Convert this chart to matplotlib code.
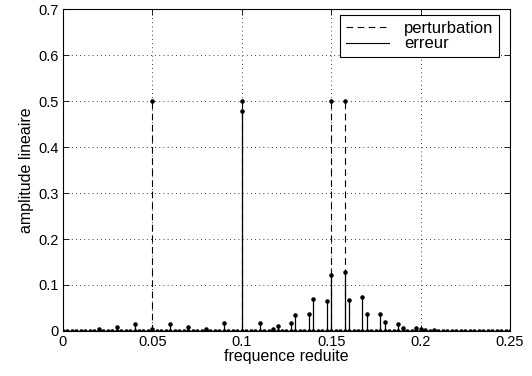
import numpy as np
import matplotlib
matplotlib.use('Agg')
import matplotlib.pyplot as plt
from matplotlib.lines import Line2D

plt.rcParams['font.family'] = ['Liberation Sans', 'DejaVu Sans']

# frequency grid (step 0.0025 from 0 to 0.25)
freq_grid = np.linspace(0, 0.25, 101)

# perturbation : pure sines
pert_freq = [0.05, 0.1, 0.15, 0.1575]
pert_amp = [0.5, 0.5, 0.5, 0.5]

# erreur : non-zero bins (other bins are 0)
err_freq = [0.02, 0.03, 0.04, 0.05, 0.06, 0.07, 0.08, 0.09, 0.1, 0.11,
            0.1175, 0.12, 0.1275, 0.13, 0.1375, 0.14, 0.1475, 0.15,
            0.1575, 0.16, 0.1675, 0.17, 0.1775, 0.18, 0.1875, 0.19,
            0.1975, 0.2, 0.2025, 0.2075]
err_amp = [0.004, 0.009, 0.015, 0.005, 0.015, 0.009, 0.004, 0.018, 0.478, 0.018,
           0.004, 0.010, 0.017, 0.034, 0.038, 0.070, 0.066, 0.122,
           0.128, 0.067, 0.073, 0.038, 0.038, 0.019, 0.016, 0.007,
           0.006, 0.004, 0.002, 0.002]

fig = plt.figure(figsize=(5.32, 3.76), dpi=100)
ax = fig.add_axes([0.1184, 0.1197, 0.8402, 0.8563])

# dots on every bin at zero
ax.plot(freq_grid, np.zeros_like(freq_grid), 'k.', markersize=4.5, linestyle='None')

ax.vlines(pert_freq, 0, pert_amp, colors='k', linestyles=(0, (6, 4)), linewidth=0.8)
ax.plot(pert_freq, pert_amp, 'k.', markersize=4.5)

ax.vlines(err_freq, 0, err_amp, colors='k', linestyles='-', linewidth=0.9)
ax.plot(err_freq, err_amp, 'k.', markersize=4.5)

ax.set_xlim(0, 0.25)
ax.set_ylim(0, 0.7)
ax.set_xticks([0, 0.05, 0.1, 0.15, 0.2, 0.25])
ax.set_xticklabels(['0', '0.05', '0.1', '0.15', '0.2', '0.25'])
ax.set_yticks([0, 0.1, 0.2, 0.3, 0.4, 0.5, 0.6, 0.7])
ax.set_yticklabels(['0', '0.1', '0.2', '0.3', '0.4', '0.5', '0.6', '0.7'])
ax.tick_params(direction='in', top=True, right=True, labelsize=10.5, length=4,
               width=0.6, pad=3)
ax.grid(True, color='k', linestyle=(0, (1, 4)), linewidth=0.6)
for s in ax.spines.values():
    s.set_linewidth(0.8)

ax.set_xlabel('frequence reduite', fontsize=11.5, labelpad=0)
ax.set_ylabel('amplitude lineaire', fontsize=11.5, labelpad=3)

handles = [Line2D([], [], color='k', linestyle=(0, (6, 4)), linewidth=0.8),
           Line2D([], [], color='k', linestyle='-', linewidth=0.8)]
leg = ax.legend(handles, ['perturbation', 'erreur'], loc='upper right',
                bbox_to_anchor=(0.976, 0.982), borderaxespad=0, fontsize=12,
                handlelength=2.6, handletextpad=0.9, fancybox=False, framealpha=1,
                edgecolor='k', borderpad=0.35, labelspacing=0.05)
leg.get_frame().set_linewidth(0.8)

fig.savefig('out.png', dpi=100)
